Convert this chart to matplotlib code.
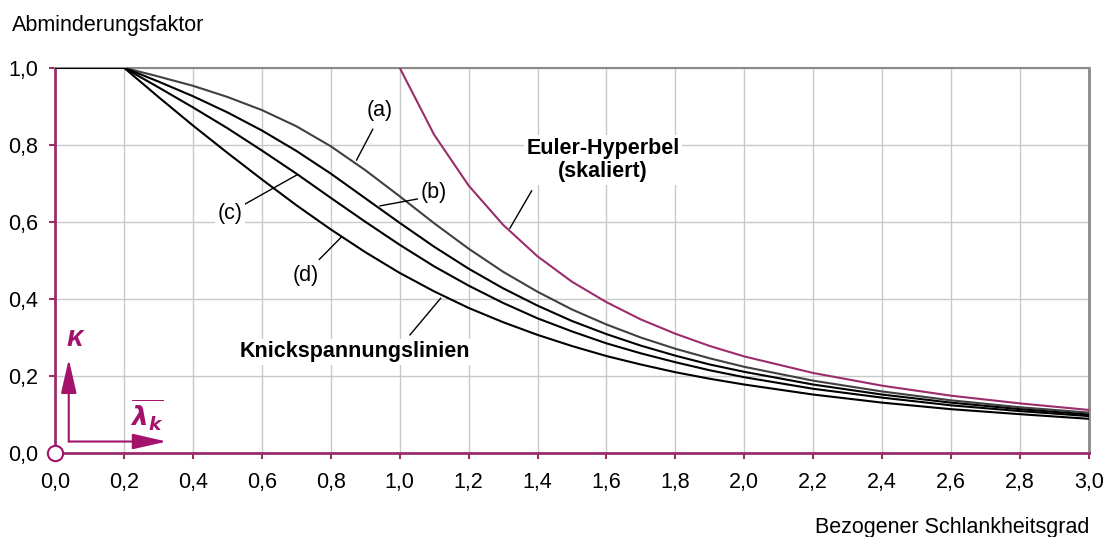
import matplotlib.pyplot as plt

plt.rcParams['font.family'] = ['Liberation Sans', 'DejaVu Sans']

# bezogener Schlankheitsgrad
lam = [0.0, 0.1, 0.2, 0.3, 0.4, 0.5, 0.6, 0.7, 0.8, 0.9, 1.0, 1.1, 1.2, 1.3, 1.4,
       1.5, 1.6, 1.7, 1.8, 1.9, 2.0, 2.2, 2.4, 2.6, 2.8, 3.0]

# Knickspannungslinien a-d (Abminderungsfaktor kappa)
kappa_a = [1.0, 1.0, 1.0, 0.977, 0.953, 0.924, 0.890, 0.848, 0.796, 0.734, 0.666, 0.596, 0.530,
           0.470, 0.418, 0.372, 0.333, 0.299, 0.270, 0.245, 0.223, 0.187, 0.159, 0.136, 0.118, 0.104]
kappa_b = [1.0, 1.0, 1.0, 0.964, 0.926, 0.884, 0.837, 0.784, 0.725, 0.661, 0.597, 0.535, 0.478,
           0.427, 0.382, 0.342, 0.308, 0.278, 0.252, 0.229, 0.210, 0.177, 0.151, 0.130, 0.113, 0.099]
kappa_c = [1.0, 1.0, 1.0, 0.949, 0.897, 0.843, 0.785, 0.725, 0.662, 0.600, 0.540, 0.484, 0.434,
           0.389, 0.349, 0.315, 0.284, 0.258, 0.235, 0.214, 0.196, 0.166, 0.143, 0.123, 0.108, 0.095]
kappa_d = [1.0, 1.0, 1.0, 0.924, 0.850, 0.779, 0.710, 0.643, 0.580, 0.521, 0.467, 0.419, 0.376,
           0.339, 0.306, 0.277, 0.251, 0.229, 0.209, 0.192, 0.177, 0.151, 0.130, 0.113, 0.100, 0.088]

# Euler-Hyperbel (skaliert)
lam_euler = [1.0, 1.1, 1.2, 1.3, 1.4, 1.5, 1.6, 1.7, 1.8, 1.9, 2.0, 2.2, 2.4, 2.6, 2.8, 3.0]
kappa_euler = [1.0, 0.826, 0.694, 0.592, 0.510, 0.444, 0.391, 0.346, 0.309, 0.277, 0.250,
               0.207, 0.174, 0.148, 0.128, 0.111]

xticks = [0.0, 0.2, 0.4, 0.6, 0.8, 1.0, 1.2, 1.4, 1.6, 1.8, 2.0, 2.2, 2.4, 2.6, 2.8, 3.0]
yticks = [0.0, 0.2, 0.4, 0.6, 0.8, 1.0]

purple = '#9b2d6b'
magenta = '#a3136c'
fs = 15.5

fig = plt.figure(figsize=(11.13, 5.37), dpi=100)
ax = fig.add_axes([0.0494, 0.157, 0.929, 0.717])

ax.plot(lam, kappa_a, color='#404040', linewidth=1.5, zorder=3)
ax.plot(lam, kappa_b, color='black', linewidth=1.5, zorder=3)
ax.plot(lam, kappa_c, color='black', linewidth=1.5, zorder=3)
ax.plot(lam, kappa_d, color='black', linewidth=1.5, zorder=3)
ax.plot(lam_euler, kappa_euler, color=purple, linewidth=1.5, zorder=3)

ax.set_xlim(0, 3.0)
ax.set_ylim(0, 1.0)
ax.set_xticks(xticks)
ax.set_yticks(yticks)
ax.set_xticklabels([('%.1f' % v).replace('.', ',') for v in xticks])
ax.set_yticklabels([('%.1f' % v).replace('.', ',') for v in yticks])
ax.grid(True, color='#c8c8c8', linewidth=1)
ax.set_axisbelow(True)

ax.spines['left'].set_color(purple)
ax.spines['bottom'].set_color(purple)
ax.spines['left'].set_linewidth(2)
ax.spines['bottom'].set_linewidth(2)
ax.spines['top'].set_color('#8a8a8a')
ax.spines['right'].set_color('#8a8a8a')
ax.spines['top'].set_linewidth(1.5)
ax.spines['right'].set_linewidth(2)
ax.tick_params(axis='both', direction='out', length=4, width=1.5, color=purple, labelsize=fs)
ax.tick_params(axis='x', pad=10)
ax.tick_params(axis='y', pad=8)

box = dict(facecolor='white', edgecolor='none', pad=2)

# Beschriftungen der Kurven mit Hinweislinien
labels = [('(a)', 0.943, 0.89, (0.922, 0.84), (0.875, 0.76)),
          ('(b)', 1.10, 0.675, (1.064, 0.661), (0.943, 0.641)),
          ('(c)', 0.508, 0.62, (0.546, 0.643), (0.701, 0.721)),
          ('(d)', 0.728, 0.459, (0.767, 0.502), (0.832, 0.561))]
for txt, tx, ty, p0, p1 in labels:
    ax.plot([p0[0], p1[0]], [p0[1], p1[1]], color='black', linewidth=1, zorder=4)
    ax.text(tx, ty, txt, fontsize=fs, ha='center', va='center', bbox=box, zorder=5)

ax.plot([1.383, 1.32], [0.68, 0.583], color='black', linewidth=1, zorder=4)
ax.text(1.59, 0.76, 'Euler-Hyperbel\n(skaliert)', fontsize=fs, fontweight='bold',
        ha='center', va='center', linespacing=1.1, bbox=box, zorder=5)

ax.plot([1.03, 1.119], [0.306, 0.401], color='black', linewidth=1, zorder=4)
ax.text(0.87, 0.262, 'Knickspannungslinien', fontsize=fs, fontweight='bold',
        ha='center', va='center', bbox=box, zorder=5)

# Koordinatenpfeile
arrow = dict(arrowstyle='-|>,head_length=1.4,head_width=0.32', color=magenta, lw=1.5,
             shrinkA=0, shrinkB=0, mutation_scale=15)
ax.annotate('', xy=(0.04, 0.243), xytext=(0.04, 0.029), arrowprops=arrow, zorder=6)
ax.annotate('', xy=(0.324, 0.029), xytext=(0.04, 0.029), arrowprops=arrow, zorder=6)
ax.text(0.056, 0.298, 'κ', fontsize=21, fontweight='bold', fontstyle='italic',
        color=magenta, ha='center', va='center', zorder=6)
ax.text(0.266, 0.098, r'$\overline{\mathbfit{\lambda}_\mathbfit{k}}$', fontsize=19,
        color=magenta, ha='center', va='center', zorder=6)
ax.plot([0], [0], marker='o', markersize=11, markerfacecolor='white',
        markeredgecolor=magenta, markeredgewidth=1.5, clip_on=False, zorder=7)

fig.text(12 / 1113, 1 - 25 / 537, 'Abminderungsfaktor', fontsize=fs, ha='left', va='center')
fig.text(1089 / 1113, 1 - 527 / 537, 'Bezogener Schlankheitsgrad', fontsize=fs,
         ha='right', va='center')

plt.savefig('out.png', dpi=100)
